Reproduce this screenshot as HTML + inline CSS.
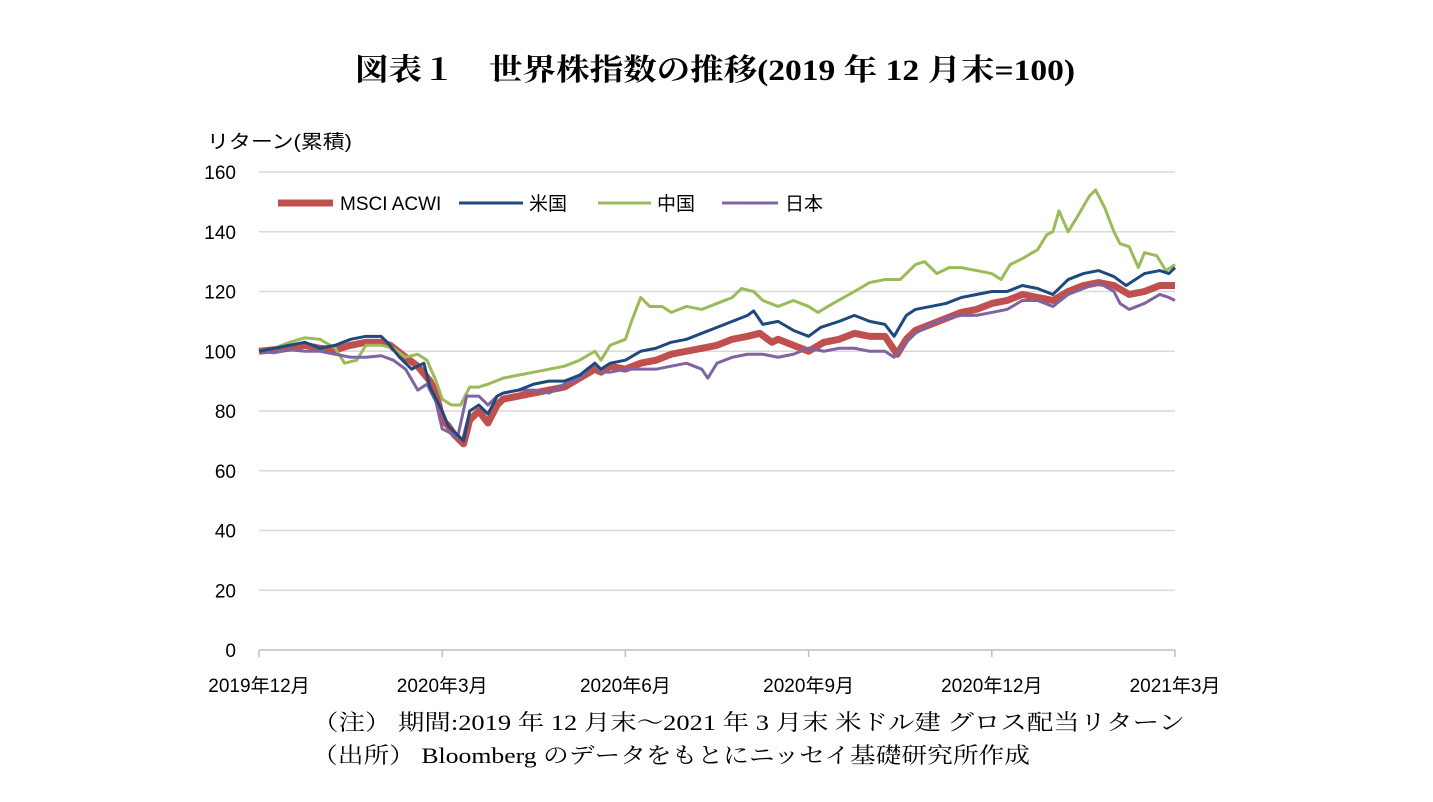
<!DOCTYPE html>
<html><head><meta charset="utf-8"><style>
body{margin:0;background:#fff;width:1433px;height:797px;overflow:hidden}
svg text{font-family:"Liberation Sans","Noto Sans CJK JP",sans-serif}
</style></head><body>
<svg id="chart" width="1433" height="797">
<text x="355" y="80" font-size="30" font-weight="bold" textLength="720" lengthAdjust="spacingAndGlyphs" style="font-family:'Liberation Serif','Noto Serif CJK SC',serif">図表１　世界株指数の推移(2019 年 12 月末=100)</text>
<text x="207" y="148" font-size="19" textLength="145" lengthAdjust="spacingAndGlyphs">リターン(累積)</text>
<g id="grid"></g><g id="lines"></g>
<g>
<line x1="278" y1="203" x2="333" y2="203" stroke="#c0504d" stroke-width="7"/>
<text x="340" y="210" font-size="19">MSCI ACWI</text>
<line x1="459" y1="203" x2="523" y2="203" stroke="#1f497d" stroke-width="3"/>
<text x="529" y="210" font-size="19">米国</text>
<line x1="598" y1="203" x2="651" y2="203" stroke="#9bbb59" stroke-width="3"/>
<text x="657" y="210" font-size="19">中国</text>
<line x1="722" y1="203" x2="778" y2="203" stroke="#8064a2" stroke-width="3"/>
<text x="785" y="210" font-size="19">日本</text>
</g>
<text x="312" y="730" font-size="22" textLength="873" lengthAdjust="spacingAndGlyphs" style="font-family:'Liberation Serif','Noto Serif CJK SC',serif">（注） 期間:2019 年 12 月末～2021 年 3 月末 米ドル建 グロス配当リターン</text>
<text x="312" y="763" font-size="22" textLength="718" lengthAdjust="spacingAndGlyphs" style="font-family:'Liberation Serif','Noto Serif CJK SC',serif">（出所） Bloomberg のデータをもとにニッセイ基礎研究所作成</text>
</svg>
<script>
const yTicks=[0,20,40,60,80,100,120,140,160];
const xTickLabels=["2019年12月","2020年3月","2020年6月","2020年9月","2020年12月","2021年3月"];
const xTickMonths=[0,3,6,9,12,15];
const acwiT=[0,0.25,0.5,0.75,1,1.25,1.5,1.75,2,2.15,2.4,2.6,2.8,2.9,3,3.1,3.2,3.35,3.45,3.6,3.75,3.9,4,4.25,4.5,4.75,5,5.25,5.5,5.6,5.75,6,6.25,6.5,6.75,7,7.25,7.5,7.75,8,8.2,8.4,8.5,8.75,9,9.25,9.5,9.75,10,10.25,10.45,10.6,10.75,11,11.25,11.5,11.75,12,12.25,12.5,12.75,13,13.25,13.5,13.75,14,14.25,14.5,14.75,15];
const acwiV=[100,100.5,101,102,101,100.5,102,103,103,102,98,95,90,86,77,75,72,69,77,80,76,82,84,85,86,87,88,91,94,93,95,94,96,97,99,100,101,102,104,105,106,103,104,102,100,103,104,106,105,105,99,104,107,109,111,113,114,116,117,119,118,117,120,122,123,122,119,120,122,122];
const usT=[0,0.25,0.5,0.75,1,1.25,1.5,1.75,2,2.1,2.3,2.5,2.7,2.8,3,3.1,3.2,3.35,3.45,3.6,3.75,3.9,4,4.25,4.5,4.75,5,5.25,5.5,5.6,5.75,6,6.25,6.5,6.75,7,7.25,7.5,7.75,8,8.1,8.25,8.5,8.75,9,9.2,9.5,9.75,10,10.25,10.4,10.6,10.75,11,11.25,11.5,11.75,12,12.25,12.5,12.75,13,13.25,13.5,13.75,14,14.2,14.5,14.75,14.9,15];
const usV=[100,101,102,103,101,102,104,105,105,103,98,94,96,88,80,75,73,70,80,82,79,85,86,87,89,90,90,92,96,94,96,97,100,101,103,104,106,108,110,112,113.5,109,110,107,105,108,110,112,110,109,105,112,114,115,116,118,119,120,120,122,121,119,124,126,127,125,122,126,127,126,128];
const chinaT=[0,0.25,0.5,0.75,1,1.25,1.4,1.6,1.75,2,2.2,2.4,2.6,2.75,2.9,3,3.15,3.3,3.45,3.6,3.75,4,4.25,4.5,4.75,5,5.25,5.5,5.6,5.75,6,6.1,6.25,6.4,6.6,6.75,7,7.25,7.5,7.75,7.9,8.1,8.25,8.5,8.75,9,9.15,9.4,9.75,10,10.25,10.5,10.75,10.9,11.1,11.3,11.5,11.75,12,12.15,12.3,12.5,12.75,12.9,13,13.1,13.25,13.4,13.6,13.7,13.85,14,14.1,14.25,14.4,14.5,14.7,14.85,15];
const chinaV=[100,101,103,104.5,104,101,96,97,102,102,101,98,99,97,90,84,82,82,88,88,89,91,92,93,94,95,97,100,97,102,104,110,118,115,115,113,115,114,116,118,121,120,117,115,117,115,113,116,120,123,124,124,129,130,126,128,128,127,126,124,129,131,134,139,140,147,140,145,152,154,148,140,136,135,128,133,132,127,129];
const japanT=[0,0.25,0.5,0.75,1,1.25,1.5,1.75,2,2.2,2.4,2.6,2.75,2.9,3,3.1,3.25,3.4,3.6,3.75,3.9,4,4.25,4.5,4.75,5,5.25,5.5,5.6,5.75,6,6.25,6.5,6.75,7,7.25,7.35,7.5,7.75,8,8.25,8.5,8.75,9,9.25,9.5,9.75,10,10.25,10.4,10.6,10.75,11,11.25,11.5,11.75,12,12.25,12.5,12.75,13,13.25,13.5,13.75,14,14.1,14.25,14.5,14.75,14.9,15];
const japanV=[100,99.5,100.5,100,100,99,98,98,98.5,97,94,87,89,83,74,73,71,85,85,82,85,86,87,87,86,89,91,96,93,93,94,94,94,95,96,94,91,96,98,99,99,98,99,101,100,101,101,100,100,98,103,106,109,111,112,112,113,114,117,117,115,119,121,123,120,116,114,116,119,118,117];
const NS="http://www.w3.org/2000/svg";
const x0=259,x1=1175,yTop=172,yBot=650;
const xs=t=>x0+(x1-x0)*t/15;
const ys=v=>yBot-(yBot-yTop)*v/160;
const grid=document.getElementById('grid');
yTicks.forEach(v=>{
 const l=document.createElementNS(NS,'line');
 l.setAttribute('x1',x0);l.setAttribute('x2',x1);l.setAttribute('y1',ys(v));l.setAttribute('y2',ys(v));
 l.setAttribute('stroke',v===0?'#bfbfbf':'#d9d9d9');l.setAttribute('stroke-width',1.5);
 
 
 grid.appendChild(l);
 const t=document.createElementNS(NS,'text');
 t.setAttribute('x',236);t.setAttribute('y',ys(v)+7);t.setAttribute('text-anchor','end');t.setAttribute('font-size','19');
 t.textContent=v;
 
 
 grid.appendChild(t);
});
xTickMonths.forEach((m,i)=>{
 const l=document.createElementNS(NS,'line');
 l.setAttribute('x1',xs(m));l.setAttribute('x2',xs(m));l.setAttribute('y1',yBot);l.setAttribute('y2',yBot+7);
 l.setAttribute('stroke','#bfbfbf');l.setAttribute('stroke-width',1.5);
 
 
 grid.appendChild(l);
 const t=document.createElementNS(NS,'text');
 t.setAttribute('x',xs(m));t.setAttribute('y',692);t.setAttribute('text-anchor','middle');t.setAttribute('font-size','19');
 t.textContent=xTickLabels[i];
 
 
 grid.appendChild(t);
});
const lines=document.getElementById('lines');
function draw(T,V,color,w,name){
 const p=document.createElementNS(NS,'polyline');
 p.setAttribute('points',T.map((t,i)=>xs(t)+','+ys(V[i])).join(' '));
 p.setAttribute('fill','none');p.setAttribute('stroke',color);p.setAttribute('stroke-width',w);p.setAttribute('stroke-linejoin','round');
 
 
 lines.appendChild(p);
}
draw(acwiT,acwiV,'#c0504d',7,'series-msci-acwi');
draw(chinaT,chinaV,'#9bbb59',3,'series-china');
draw(japanT,japanV,'#8064a2',3,'series-japan');
draw(usT,usV,'#1f497d',3,'series-us');
</script>
</body></html>
